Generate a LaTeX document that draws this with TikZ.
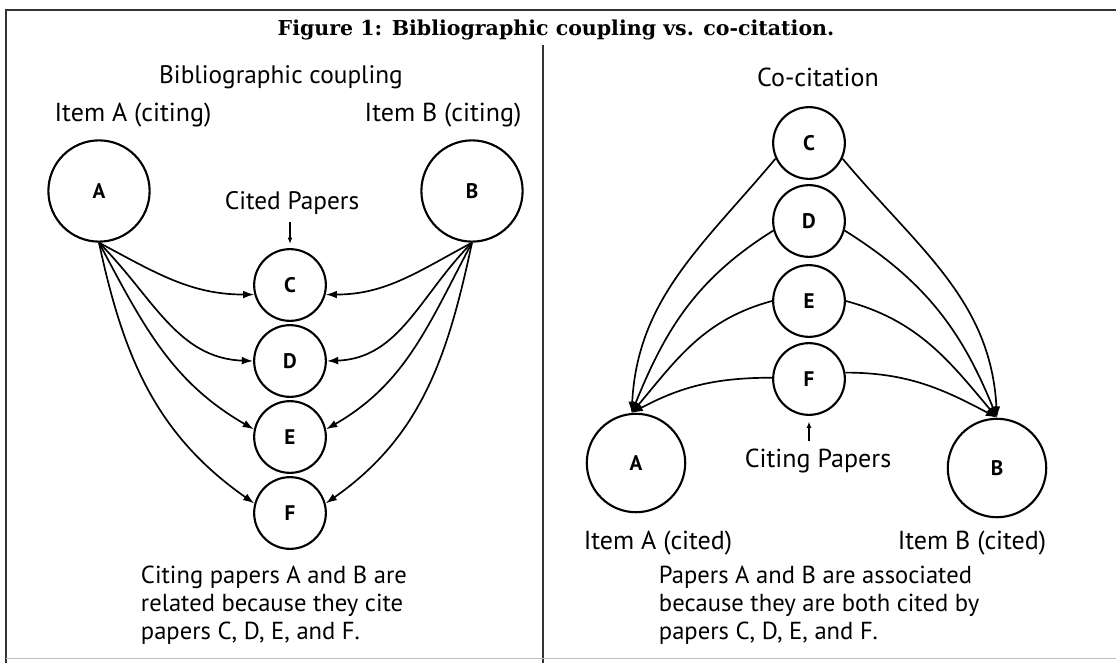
\documentclass[tikz,border=0pt]{standalone}
\usepackage{fontspec}
\setmainfont{PT Sans}
\newfontfamily\titlefont{DejaVu Serif}
\usetikzlibrary{arrows.meta}
\tikzset{every edge/.style={draw}}
\tikzset{
  paper/.style={draw, circle, line width=1.5pt, minimum size=51pt, inner sep=0pt, font=\bfseries\fontsize{15}{17}\selectfont},
  item/.style={paper, minimum size=72pt},
  lbl/.style={font=\fontsize{18}{20}\selectfont},
  note/.style={font=\fontsize{17.5}{20}\selectfont, align=left, anchor=north west},
  cite/.style={line width=1.2pt, -{Latex[length=8pt,width=5.5pt]}},
  pointer/.style={line width=1pt, -{Latex[length=4.5pt,width=3.5pt]}},
  rule/.style={line width=1.4pt, black!80},
}

\begin{document}
\begin{tikzpicture}[x=0.025cm, y=-0.025cm]
  \useasboundingbox (0, 0) rectangle (1116, 663);
  % frame
  \draw[rule] (6, 663) -- (6, 10) -- (1116, 10);
  \draw[rule] (543, 45) -- (543, 663);
  \draw[black!25, line width=0.6pt] (6, 658) -- (1116, 658);

  \node[font=\titlefont\bfseries\fontsize{14.6}{17}\selectfont] at (556, 30) (title) {Figure 1: Bibliographic coupling vs. co-citation.};

  % bibliographic coupling
  \node[lbl] at (281, 77) (bc) {Bibliographic coupling};
  \node[lbl, font=\fontsize{18.5}{20}\selectfont] at (133, 115) (itemA) {Item A (citing)};
  \node[lbl, font=\fontsize{18.5}{20}\selectfont] at (443, 115) (itemB) {Item B (citing)};
  \node[item] at (99, 191) (A) {A};
  \node[item] at (472, 191) (B) {B};
  \node[lbl] at (292, 203) (cited) {Cited Papers};
  \node[paper] at (290, 285) (C) {C};
  \node[paper] at (290, 361) (D) {D};
  \node[paper] at (290, 437) (E) {E};
  \node[paper] at (290, 513) (F) {F};

  \draw (C.north |- cited.south) edge[pointer, shorten <=2pt, shorten >=3pt] (C.north);

  \draw (A.south) edge[cite, out=-28, in=180] (C.195);
  \draw (A.south) edge[cite, out=-45, in=178] (D.180);
  \draw (A.south) edge[cite, out=-62, in=150] (E.168);
  \draw (A.south) edge[cite, out=-78, in=145] (F.165);
  \draw (B.south) edge[cite, out=208, in=0] (C.-15);
  \draw (B.south) edge[cite, out=225, in=2] (D.0);
  \draw (B.south) edge[cite, out=242, in=30] (E.12);
  \draw (B.south) edge[cite, out=258, in=35] (F.15);

  \node[note] at (136, 561) (noteL) {Citing papers A and B are\\related because they cite\\papers C, D, E, and F.};

  % co-citation
  \node[lbl, font=\fontsize{18.5}{20}\selectfont] at (818, 77) (cc) {Co-citation};
  \node[paper] at (809, 143) (C2) {C};
  \node[paper] at (809, 221) (D2) {D};
  \node[paper] at (809, 301) (E2) {E};
  \node[paper] at (809, 379) (F2) {F};
  \node[item, minimum size=70pt] at (636, 463) (A2) {A};
  \node[item, minimum size=70pt] at (997, 468) (B2) {B};
  \node[lbl, font=\fontsize{18.5}{20}\selectfont] at (818, 461) (citing) {Citing Papers};
  \node[lbl, font=\fontsize{18.5}{20}\selectfont] at (658, 543) (itemA2) {Item A (cited)};
  \node[lbl, font=\fontsize{18.5}{20}\selectfont] at (972, 543) (itemB2) {Item B (cited)};

  \draw (F2.south |- citing.north) edge[pointer, shorten <=2pt, shorten >=4pt] (F2.south);

  \draw (C2.205) edge[cite, out=230, in=87] (A2.95);
  \draw (D2.195) edge[cite, out=212, in=68] (A2.95);
  \draw (E2.180) edge[cite, out=195, in=50] (A2.95);
  \draw (F2.178) edge[cite, out=180, in=28] (A2.95);
  \draw (C2.335) edge[cite, out=-50, in=93] (B2.90);
  \draw (D2.345) edge[cite, out=-32, in=112] (B2.90);
  \draw (E2.0) edge[cite, out=-15, in=130] (B2.90);
  \draw (F2.10) edge[cite, out=0, in=152] (B2.90);

  \node[note] at (654, 561) (noteR) {Papers A and B are associated\\because they are both cited by\\papers C, D, E, and F.};
\end{tikzpicture}
\end{document}
